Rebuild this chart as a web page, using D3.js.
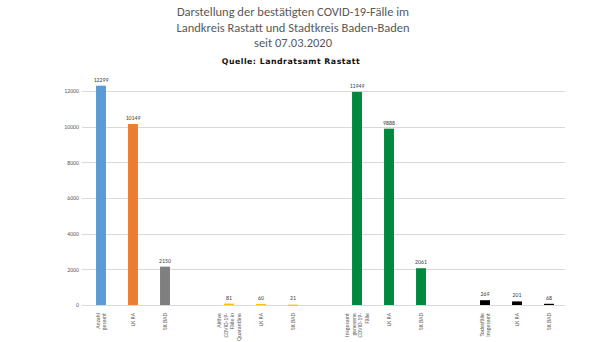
<!DOCTYPE html>
<html>
<head>
<meta charset="utf-8">
<script src="https://cdn.jsdelivr.net/npm/d3@7"></script>
<style>
html,body{margin:0;padding:0;background:#fff;}
svg{display:block;}
</style>
</head>
<body>
<svg id="chart" width="608" height="342"></svg>
<script>
// ---- data ----
const titleLines = ["Darstellung der bestätigten COVID-19-Fälle im", "Landkreis Rastatt und Stadtkreis Baden-Baden", "seit 07.03.2020"];
const sourceText = "Quelle: Landratsamt Rastatt";
const categories = [
  "Anzahl|gesamt", "LK RA", "SK BAD", "",
  "Aktive|COVID-19-|Fälle in|Quarantäne", "LK RA", "SK BAD", "",
  "Insgesamt|genesene|COVID-19-|Fälle", "LK RA", "SK BAD", "",
  "Todesfälle|insgesamt", "LK RA", "SK BAD"
];
const values = [12299, 10149, 2150, null, 81, 60, 21, null, 11949, 9888, 2061, null, 269, 201, 68];
const barColors = ["#5B9BD5", "#ED7D31", "#7F7F7F", null, "#FFC000", "#FFC000", "#FFC000", null,
                   "#00893E", "#00893E", "#00893E", null, "#000000", "#000000", "#000000"];
const yTicks = [0, 2000, 4000, 6000, 8000, 10000, 12000];

// ---- chart ----
const svg = d3.select("#chart");
const mLeft = 85, mRight = 565, mTop = 91, mBottom = 305;

const x = d3.scaleBand().domain(d3.range(categories.length)).range([mLeft, mRight]).paddingInner(0.69).paddingOuter(0.345);
const y = d3.scaleLinear().domain([0, 12000]).range([mBottom, mTop]);

// title
const t = svg.append("text").attr("x", 293).attr("text-anchor", "middle")
  .attr("font-family", "Carlito, 'Open Sans', sans-serif").attr("font-size", 12.5).attr("fill", "#595959");
titleLines.forEach((l, i) => t.append("tspan").attr("x", 293).attr("y", 16 + i * 15.5).text(l));

svg.append("text").attr("x", 291).attr("y", 64).attr("text-anchor", "middle")
  .attr("font-family", "'DejaVu Sans', sans-serif").attr("font-size", 7.8).attr("font-weight", "bold")
  .attr("letter-spacing", 0.5).attr("fill", "#111").text(sourceText);

// gridlines
svg.append("g").selectAll("line").data(yTicks).join("line")
  .attr("x1", mLeft - 3).attr("x2", mRight).attr("y1", d => Math.round(y(d)) + 0.5).attr("y2", d => Math.round(y(d)) + 0.5)
  .attr("stroke", "#d9d9d9").attr("stroke-width", 1);

// y axis
const yAxis = d3.axisLeft(y).tickValues(yTicks).tickSize(0).tickPadding(0).tickFormat(d3.format("d"));
const ga = svg.append("g").attr("transform", `translate(${mLeft - 6},0)`).call(yAxis);
ga.select(".domain").remove();
ga.selectAll("text").attr("font-family", "Carlito, 'Open Sans', sans-serif").attr("font-size", 5.8).attr("fill", "#595959");

// bars
const idx = d3.range(categories.length).filter(i => values[i] !== null);
svg.append("g").selectAll("rect").data(idx).join("rect")
  .attr("x", i => x(i)).attr("width", x.bandwidth())
  .attr("y", i => y(values[i])).attr("height", i => Math.max(1.2, y(0) - y(values[i])))
  .attr("fill", i => barColors[i]);

// value labels
svg.append("g").selectAll("text").data(idx).join("text")
  .attr("x", i => x(i) + x.bandwidth() / 2).attr("y", i => Math.min(y(values[i]), y(0) - 1.2) - 4)
  .attr("text-anchor", "middle").attr("font-family", "Carlito, 'Open Sans', sans-serif")
  .attr("font-size", 5.8).attr("fill", "#404040").text(i => values[i]);

// x labels
const lh = 6.5;
const xl = svg.append("g").selectAll("text").data(d3.range(categories.length).filter(i => categories[i] !== "")).join("text")
  .attr("transform", i => `translate(${x(i) + x.bandwidth() / 2},313) rotate(-90)`)
  .attr("text-anchor", "end").attr("font-family", "Carlito, 'Open Sans', sans-serif")
  .attr("font-size", 5.8).attr("fill", "#595959");
xl.each(function(i) {
  const lines = categories[i].split("|");
  const n = lines.length;
  const sel = d3.select(this);
  lines.forEach((l, k) => sel.append("tspan").attr("x", 0).attr("y", (k - (n - 1) / 2) * lh + 2).text(l));
});
</script>
</body>
</html>
